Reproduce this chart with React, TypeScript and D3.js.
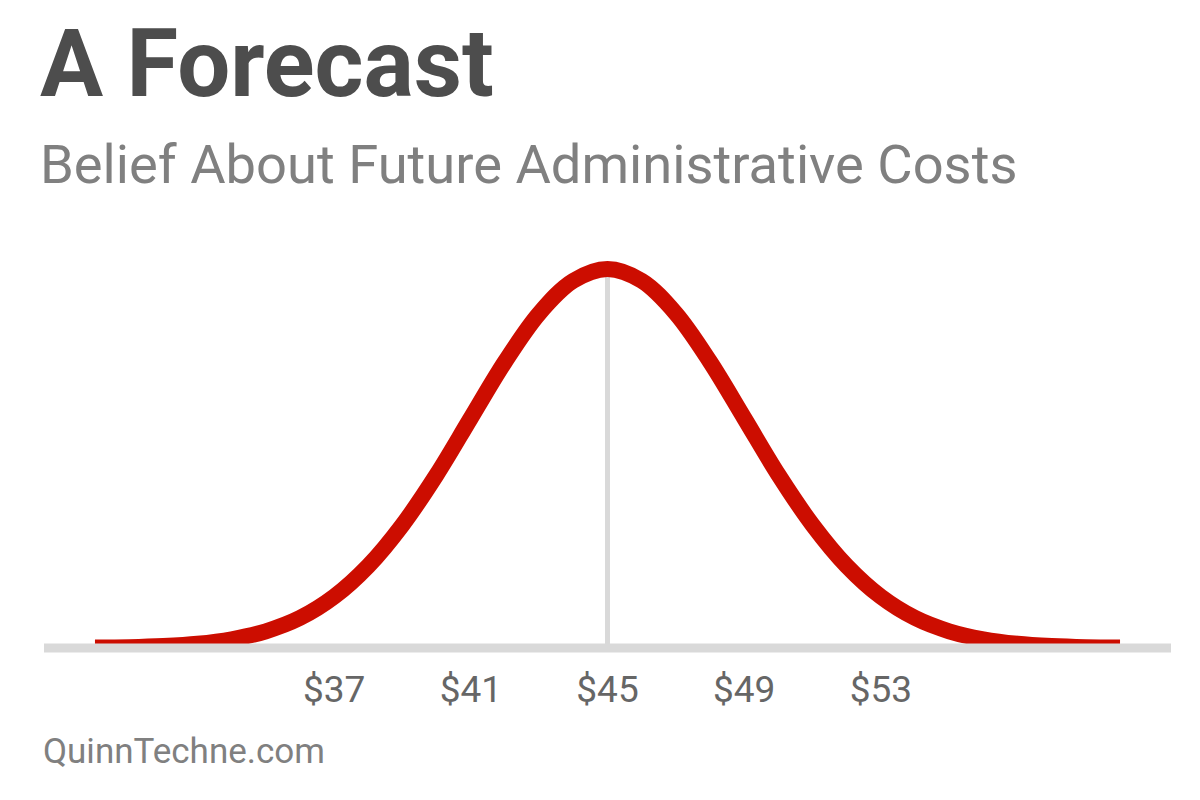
import * as d3 from "d3";

// dollar values along the x axis
const costs = [30, 31, 32, 33, 34, 35, 36, 37, 38, 39, 40, 41, 42, 43, 44, 45, 46, 47, 48, 49, 50, 51, 52, 53, 54, 55, 56, 57, 58, 59, 60];
// belief (density)
const belief = [0.0001, 0.0002, 0.0005, 0.0011, 0.0023, 0.0044, 0.0079, 0.0135, 0.0216, 0.0324, 0.0456, 0.0605, 0.0753, 0.088, 0.0966, 0.0997, 0.0966, 0.088, 0.0753, 0.0605, 0.0456, 0.0324, 0.0216, 0.0135, 0.0079, 0.0044, 0.0023, 0.0011, 0.0005, 0.0002, 0.0001];
const tickValues = [37, 41, 45, 49, 53];
const meanCost = 45;

const width = 1200;
const height = 800;
const baseY = 648;

export default function App() {
  const x = d3.scaleLinear().domain([30, 60]).range([95, 1120]);
  const y = d3.scaleLinear().domain([0, d3.max(belief)!]).range([baseY, 269]);

  const points = costs.map((c, i) => ({ c, v: belief[i] }));
  const line = d3
    .line<{ c: number; v: number }>()
    .x((d) => x(d.c))
    .y((d) => y(d.v))
    .curve(d3.curveCatmullRom);

  return (
    <div style={{ position: "absolute", left: 0, top: 0 }}>
      <svg width={width} height={height} style={{ display: "block", background: "#fff" }}>
        <defs>
          <clipPath id="plot">
            <rect x={0} y={0} width={width} height={644} />
          </clipPath>
        </defs>
        <text x={40} y={96} fontFamily="Roboto" fontWeight={700} fontSize={94} fill="#4d4d4d">
          A Forecast
        </text>
        <text x={40} y={183} fontFamily="Roboto" fontSize={54.3} fill="#808080">
          Belief About Future Administrative Costs
        </text>

        <line x1={x(meanCost)} x2={x(meanCost)} y1={y(d3.max(belief)!)} y2={baseY} stroke="#d9d9d9" strokeWidth={5} />
        <path
          d={line(points) ?? ""}
          fill="none"
          stroke="#cc0d00"
          strokeWidth={16}
          clipPath="url(#plot)"
        />
        <line x1={44} x2={1171} y1={baseY} y2={baseY} stroke="#d9d9d9" strokeWidth={9} />

        {tickValues.map((t) => (
          <text key={t} x={x(t)} y={702} textAnchor="middle" fontFamily="Roboto" fontSize={37} fill="#666666">
            ${t}
          </text>
        ))}

        <text x={43} y={763} fontFamily="Roboto" fontSize={35} fill="#808080">
          QuinnTechne.com
        </text>
      </svg>
    </div>
  );
}
